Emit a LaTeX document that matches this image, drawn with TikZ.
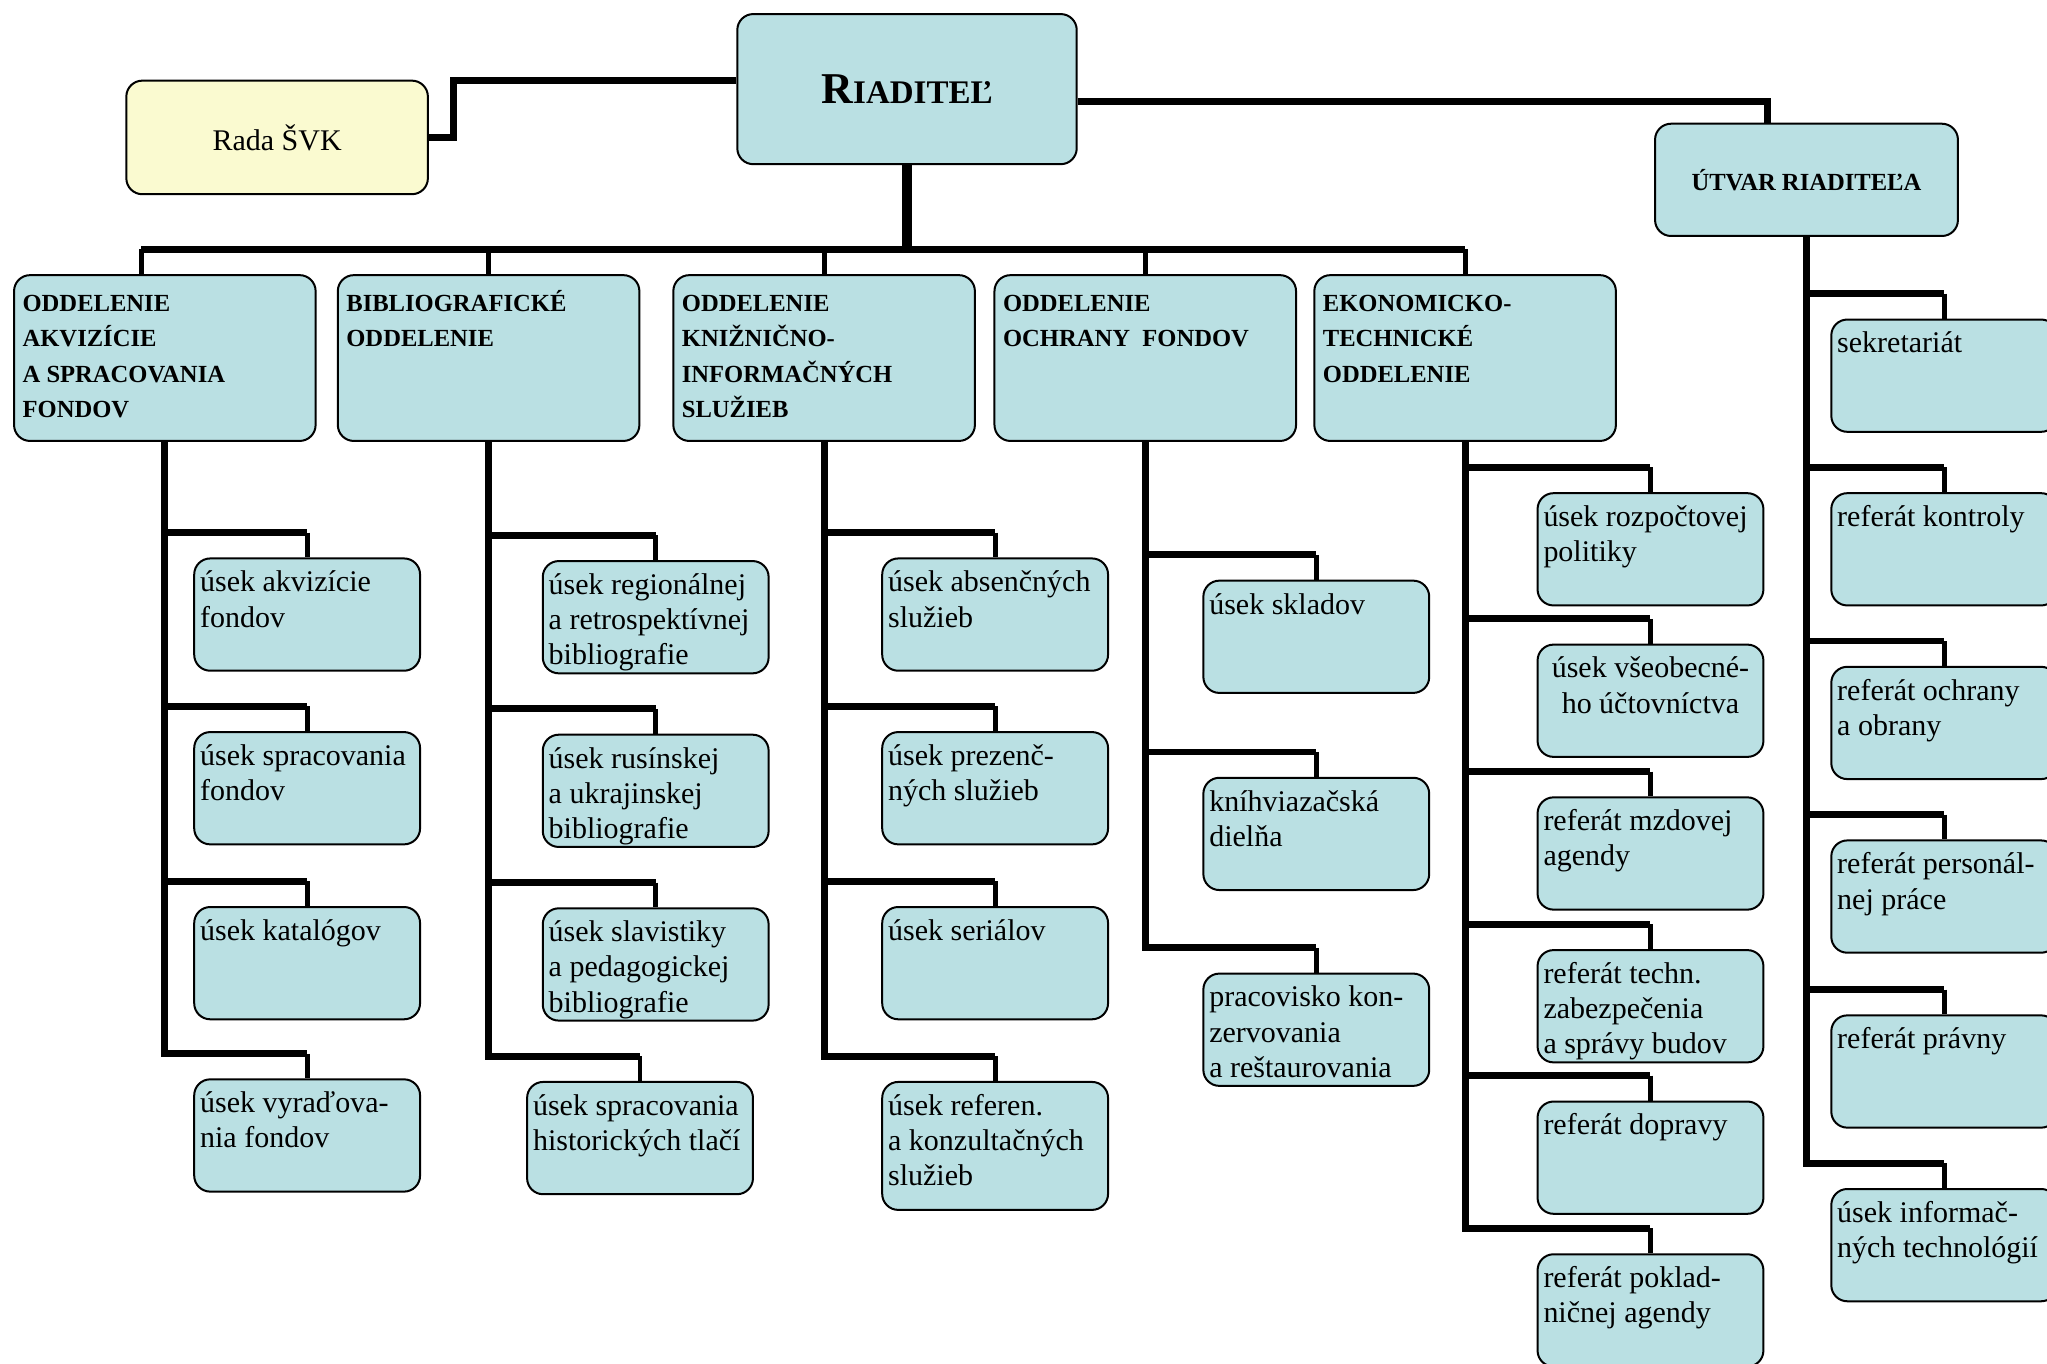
\documentclass[tikz,border=0pt]{standalone}
\usepackage{fontspec}
\setmainfont{Liberation Serif}
\usetikzlibrary{backgrounds}
\definecolor{boxblue}{RGB}{186,224,227}
\definecolor{boxyellow}{RGB}{250,250,208}
\def\upx{0.6528pt}
\def\fl{\rule{0pt}{11.5pt}}
\begin{document}
\begin{tikzpicture}[x=\upx, y=-\upx,
  box/.style={draw=black, line width=1pt, rounded corners=8pt, fill=boxblue, inner sep=0pt, anchor=north west},
  sbox/.style={box, minimum width=173*\upx, minimum height=86*\upx},
  dbox/.style={box, minimum width=231*\upx, minimum height=127*\upx},
  ctext/.style={anchor=north west, inner sep=0pt, align=left, font=\fontsize{15}{17.6}\selectfont, xshift=5*\upx, yshift=-8.4*\upx},
  ctextc/.style={anchor=north, inner sep=0pt, align=center, font=\fontsize{15}{17.6}\selectfont, yshift=-8.4*\upx},
  dtext/.style={anchor=north west, inner sep=0pt, align=left, font=\bfseries\fontsize{12.3}{17.8}\selectfont, xshift=7*\upx, yshift=-10.4*\upx},
  conn/.style={line width=3.4pt},
  drop/.style={line width=2.4pt},
  trunk/.style={line width=5pt},
]
\useasboundingbox (0,0) rectangle (1568,1044.8);

% top level
\node[box, minimum width=260*\upx, minimum height=115*\upx] (riad) at (564,10)
  {\bfseries\fontsize{22}{24}\selectfont R\fontsize{16.5}{18}\selectfont IADITEĽ};
\node[box, fill=boxyellow, minimum width=231*\upx, minimum height=87*\upx,
  font=\fontsize{15}{17.6}\selectfont] (rada) at (96,61) {Rada ŠVK};
\node[box, minimum width=232*\upx, minimum height=86*\upx,
  font=\bfseries\fontsize{12.3}{14}\selectfont] (utv) at (1267,94) {ÚTVAR RIADITEĽA};

% departments
\node[dbox, label={[dtext]north west:{\fl ODDELENIE\\AKVIZÍCIE\\A SPRACOVANIA\\FONDOV}}] (d1) at (10,210) {};
\node[dbox, label={[dtext]north west:{\fl BIBLIOGRAFICKÉ\\ODDELENIE}}] (d2) at (258,210) {};
\node[dbox, label={[dtext]north west:{\fl ODDELENIE\\KNIŽNIČNO-\\INFORMAČNÝCH\\SLUŽIEB}}] (d3) at (515,210) {};
\node[dbox, label={[dtext]north west:{\fl ODDELENIE\\OCHRANY\ \ FONDOV}}] (d4) at (761,210) {};
\node[dbox, label={[dtext]north west:{\fl EKONOMICKO-\\TECHNICKÉ\\ODDELENIE}}] (d5) at (1006,210) {};

% column 1
\node[sbox, label={[ctext]north west:{\fl úsek akvizície\\fondov}}] (c11) at (148,427) {};
\node[sbox, label={[ctext]north west:{\fl úsek spracovania\\fondov}}] (c12) at (148,560) {};
\node[sbox, label={[ctext]north west:{\fl úsek katalógov}}] (c13) at (148,694) {};
\node[sbox, label={[ctext]north west:{\fl úsek vyraďova-\\nia fondov}}] (c14) at (148,826) {};
% column 2
\node[sbox, label={[ctext]north west:{\fl úsek regionálnej\\a retrospektívnej\\bibliografie}}] (c21) at (415,429) {};
\node[sbox, label={[ctext]north west:{\fl úsek rusínskej\\a ukrajinskej\\bibliografie}}] (c22) at (415,562) {};
\node[sbox, label={[ctext]north west:{\fl úsek slavistiky\\a pedagogickej\\bibliografie}}] (c23) at (415,695) {};
\node[sbox, label={[ctext]north west:{\fl úsek spracovania\\historických tlačí}}] (c24) at (403,828) {};
% column 3
\node[sbox, label={[ctext]north west:{\fl úsek absenčných\\služieb}}] (c31) at (675,427) {};
\node[sbox, label={[ctext]north west:{\fl úsek prezenč-\\ných služieb}}] (c32) at (675,560) {};
\node[sbox, label={[ctext]north west:{\fl úsek seriálov}}] (c33) at (675,694) {};
\node[sbox, minimum height=98*\upx, label={[ctext]north west:{\fl úsek referen.\\a konzultačných\\služieb}}] (c34) at (675,828) {};
% column 4
\node[sbox, label={[ctext]north west:{\fl úsek skladov}}] (c41) at (921,444) {};
\node[sbox, label={[ctext]north west:{\fl kníhviazačská\\dielňa}}] (c42) at (921,595) {};
\node[sbox, label={[ctext]north west:{\fl pracovisko kon-\\zervovania\\a reštaurovania}}] (c43) at (921,745) {};
% column 5
\node[sbox, label={[ctext]north west:{\fl úsek rozpočtovej\\politiky}}] (c51) at (1177,377) {};
\node[sbox, label={[ctextc]north:{\fl úsek všeobecné-\\ho účtovníctva}}] (c52) at (1177,493) {};
\node[sbox, label={[ctext]north west:{\fl referát mzdovej\\agendy}}] (c53) at (1177,610) {};
\node[sbox, label={[ctext]north west:{\fl referát techn.\\zabezpečenia\\a správy budov}}] (c54) at (1177,727) {};
\node[sbox, label={[ctext]north west:{\fl referát dopravy}}] (c55) at (1177,843) {};
\node[sbox, label={[ctext]north west:{\fl referát poklad-\\ničnej agendy}}] (c56) at (1177,960) {};
% column 6
\node[sbox, label={[ctext]north west:{\fl sekretariát}}] (u1) at (1402,244) {};
\node[sbox, label={[ctext]north west:{\fl referát kontroly}}] (u2) at (1402,377) {};
\node[sbox, label={[ctext]north west:{\fl referát ochrany\\a obrany}}] (u3) at (1402,510) {};
\node[sbox, label={[ctext]north west:{\fl referát personál-\\nej práce}}] (u4) at (1402,643) {};
\node[sbox, label={[ctext]north west:{\fl referát právny}}] (u5) at (1402,777) {};
\node[sbox, label={[ctext]north west:{\fl úsek informač-\\ných technológií}}] (u6) at (1402,910) {};

\coordinate (bus) at (0,191);

\begin{scope}[on background layer]
  \draw[conn] (rada.east) -- ++(19,0) |- ([yshift=6.5*\upx]riad.west);
  \draw[conn] ([yshift=-9.5*\upx]riad.east) -| ([xshift=-30*\upx]utv.north);
  \draw[trunk] (riad.south) -- (riad.south |- bus);
  \draw[conn] ([xshift=-18*\upx]d1.north |- bus) -- (d5.north |- bus);
  \draw[drop] ([xshift=-18*\upx]d1.north) -- ([xshift=-18*\upx]d1.north |- bus);
  \foreach \d in {d2,d3,d4,d5} \draw[drop] (\d.north) -- (\d.north |- bus);
  \foreach \p/\c in {d1/c11,d1/c12,d1/c13,d1/c14,
                     d2/c21,d2/c22,d2/c23,d2/c24,
                     d3/c31,d3/c32,d3/c33,d3/c34,
                     d4/c41,d4/c42,d4/c43,
                     d5/c51,d5/c52,d5/c53,d5/c54,d5/c55,d5/c56,
                     utv/u1,utv/u2,utv/u3,utv/u4,utv/u5,utv/u6}
  {
    \draw[conn] (\p.south) |- ([yshift=19*\upx]\c.north);
    \draw[drop] ([yshift=19*\upx]\c.north) -- (\c.north);
  }
\end{scope}
\end{tikzpicture}
\end{document}
